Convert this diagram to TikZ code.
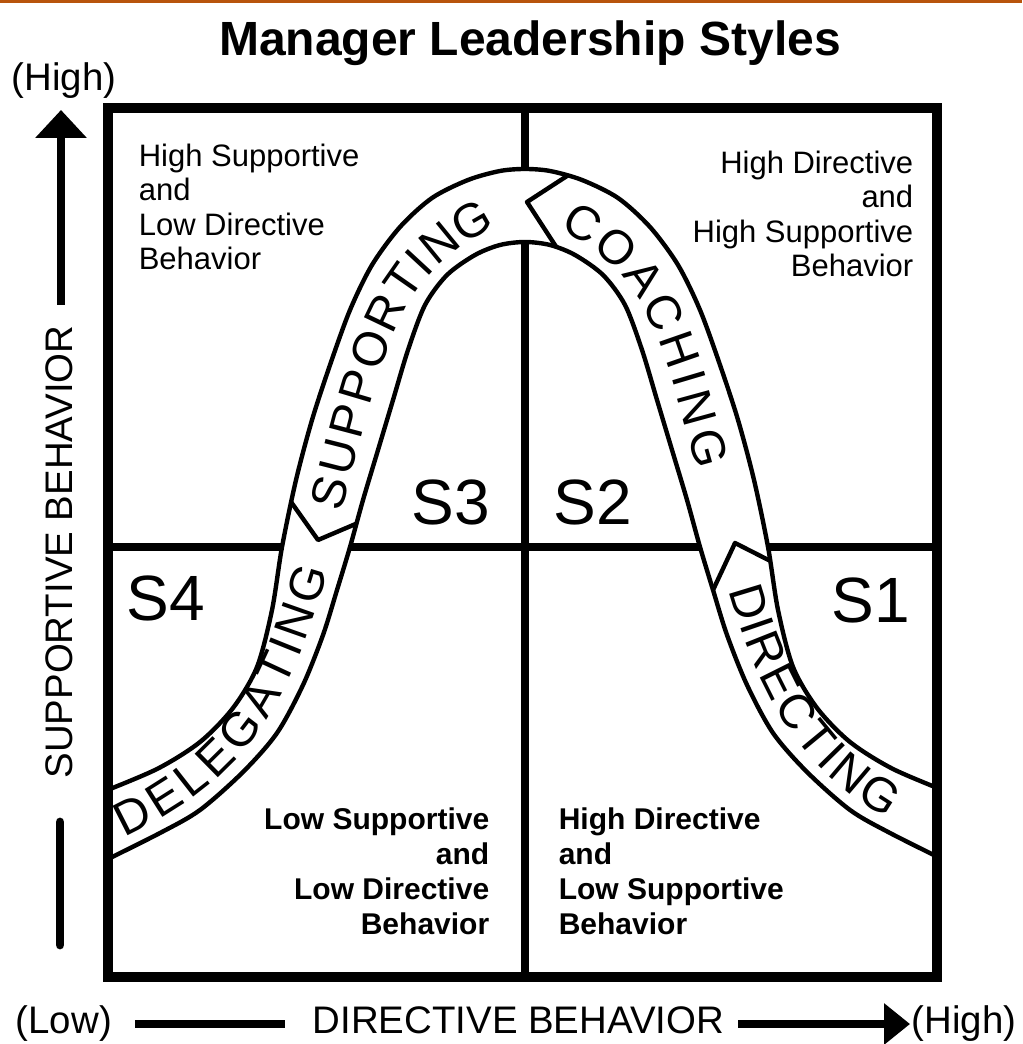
\documentclass[tikz,border=0pt]{standalone}
\usepackage{fontspec}
\setmainfont{Liberation Sans}
\usetikzlibrary{decorations.text,arrows.meta}
\definecolor{topbar}{RGB}{184,84,12}
\tikzset{
  frame/.style={line width=2.5pt},
  midline/.style={line width=2pt},
  bandline/.style={line width=1.1pt, line join=round},
  axisline/.style={line width=2.2pt},
  quadreg/.style={inner sep=0pt, font=\fontsize{7.75}{8.6}\selectfont},
  quadbold/.style={inner sep=0pt, font=\bfseries\fontsize{7.5}{8.75}\selectfont},
  slabel/.style={inner sep=0pt, font=\fontsize{16}{16}\selectfont},
  axislabel/.style={inner sep=0pt, font=\fontsize{9.6}{9.6}\selectfont},
  bandtext/.style={decorate, decoration={text along path, text align={fit to path}, raise=-4.3pt,
     text={|\fontsize{12}{12}\selectfont|#1}}}
}
\begin{document}
\begin{tikzpicture}[x=0.25pt,y=-0.25pt]
\useasboundingbox (0,0) rectangle (1022,1044);
\fill[white] (0,0) rectangle (1022,1044);
\fill[topbar] (0,0) rectangle (1022,3);

% title
\node[inner sep=0pt, font=\bfseries\fontsize{12}{12}\selectfont, anchor=base] (title) at (530,56) {Manager Leadership Styles};

% quadrant mid lines
\coordinate (vt) at (525,108);
\coordinate (vb) at (525,977);
\coordinate (hl) at (108,547);
\coordinate (hr) at (937,547);
\draw[midline] (vt) -- (vb);
\draw[midline] (hl) -- (hr);

% the band
\begin{scope}
\clip (108,108) rectangle (937,977);
\fill[white] plot[smooth] coordinates {(100,793) (157,769) (200,742) (233,708) (257,667) (272,610) (282,547) (296,480) (312,420) (330,365) (350,310) (372,265) (400,227) (432,198) (468,180) (500,171) (525,169) (550,171) (582,180) (618,198) (650,227) (678,265) (700,310) (720,365) (738,420) (754,480) (768,547) (778,610) (793,667) (817,708) (850,742) (893,769) (950,793)}
  -- plot[smooth] coordinates {(950,863) (890,833) (850,810) (807,772) (773,733) (747,685) (727,635) (713,590) (700,547) (687,500) (672,450) (657,400) (642,350) (625,305) (603,275) (575,255) (550,245) (525,242) (500,245) (475,255) (447,275) (425,305) (408,350) (393,400) (378,450) (363,500) (350,547) (337,590) (323,635) (303,685) (277,733) (243,772) (200,810) (160,833) (100,863)} -- cycle;
\begin{scope}
\clip plot[smooth] coordinates {(100,793) (157,769) (200,742) (233,708) (257,667) (272,610) (282,547) (296,480) (312,420) (330,365) (350,310) (372,265) (400,227) (432,198) (468,180) (500,171) (525,169) (550,171) (582,180) (618,198) (650,227) (678,265) (700,310) (720,365) (738,420) (754,480) (768,547) (778,610) (793,667) (817,708) (850,742) (893,769) (950,793)}
  -- plot[smooth] coordinates {(950,863) (890,833) (850,810) (807,772) (773,733) (747,685) (727,635) (713,590) (700,547) (687,500) (672,450) (657,400) (642,350) (625,305) (603,275) (575,255) (550,245) (525,242) (500,245) (475,255) (447,275) (425,305) (408,350) (393,400) (378,450) (363,500) (350,547) (337,590) (323,635) (303,685) (277,733) (243,772) (200,810) (160,833) (100,863)} -- cycle;
% chevrons
\coordinate (tipA) at (527,202);
\coordinate (tipB) at (318,540);
\coordinate (tipC) at (735,543);
\draw[bandline] (587,163) -- (tipA) -- (566,262);
\draw[bandline] (284,492) -- (tipB) -- (372,517);
\draw[bandline] (706,605) -- (tipC) -- (794,573);
\end{scope}
\draw[bandline] plot[smooth] coordinates {(100,793) (157,769) (200,742) (233,708) (257,667) (272,610) (282,547) (296,480) (312,420) (330,365) (350,310) (372,265) (400,227) (432,198) (468,180) (500,171) (525,169) (550,171) (582,180) (618,198) (650,227) (678,265) (700,310) (720,365) (738,420) (754,480) (768,547) (778,610) (793,667) (817,708) (850,742) (893,769) (950,793)};
\draw[bandline] plot[smooth] coordinates {(100,863) (160,833) (200,810) (243,772) (277,733) (303,685) (323,635) (337,590) (350,547) (363,500) (378,450) (393,400) (408,350) (425,305) (447,275) (475,255) (500,245) (525,242) (550,245) (575,255) (603,275) (625,305) (642,350) (657,400) (672,450) (687,500) (700,547) (713,590) (727,635) (747,685) (773,733) (807,772) (850,810) (890,833) (950,863)};
\end{scope}

% curved labels
\path[bandtext=DELEGATING] (117,822) .. controls (243,764) and (278,681) .. (312,566);
\path[bandtext=SUPPORTING] (325,508) .. controls (344,441) and (358,362) .. (391,300) .. controls (412,260) and (446,232) .. (488,211);
\path[bandtext=COACHING] (568,214) .. controls (604,232) and (638,260) .. (659,300) .. controls (685,348) and (697,409) .. (714,466);
\path[bandtext=DIRECTING] (745,585) .. controls (768,665) and (800,750) .. (897,804);

% frame
\draw[frame] (108,108) rectangle (937,977);

% quadrant texts
\node[quadreg, align=left, anchor=north west] (tl) at (138,143) {High Supportive\\and\\Low Directive\\Behavior};
\node[quadreg, align=right, anchor=north east] (tr) at (914,150) {High Directive\\and\\High Supportive\\Behavior};
\node[quadbold, align=right, anchor=north east] (bl) at (490,807) {Low Supportive\\and\\Low Directive\\Behavior};
\node[quadbold, align=left, anchor=north west] (br) at (558,807) {High Directive\\and\\Low Supportive\\Behavior};

% style labels
\node[slabel] (s3) at (451,502) {S3};
\node[slabel] (s2) at (593,502) {S2};
\node[slabel] (s4) at (166,598) {S4};
\node[slabel] (s1) at (871,600) {S1};

% vertical axis
\node[axislabel, anchor=base west] (yhigh) at (11,91) {(High)};
\node[axislabel, rotate=90] (ylab) at (59,552) {SUPPORTIVE BEHAVIOR};
\coordinate (yup0) at (61,305);
\coordinate (yup1) at (61,110);
\draw[axisline, -{Triangle[length=7pt,width=12.5pt]}] (yup0) -- (yup1);
\coordinate (ydn0) at (60,822);
\coordinate (ydn1) at (60,945);
\draw[axisline, line cap=round] (ydn0) -- (ydn1);

% horizontal axis
\node[axislabel, anchor=base west] (xlow) at (15,1033) {(Low)};
\node[axislabel, anchor=base west] (xlab) at (312,1033) {DIRECTIVE BEHAVIOR};
\node[axislabel, anchor=base east] (xhigh) at (1017,1033) {(High)};
\coordinate (xl0) at (135,1024);
\coordinate (xl1) at (285,1024);
\draw[axisline] (xl0) -- (xl1);
\coordinate (xr0) at (738,1024);
\coordinate (xr1) at (910,1024);
\draw[axisline, -{Triangle[length=6.5pt,width=10pt]}] (xr0) -- (xr1);
\end{tikzpicture}
\end{document}
